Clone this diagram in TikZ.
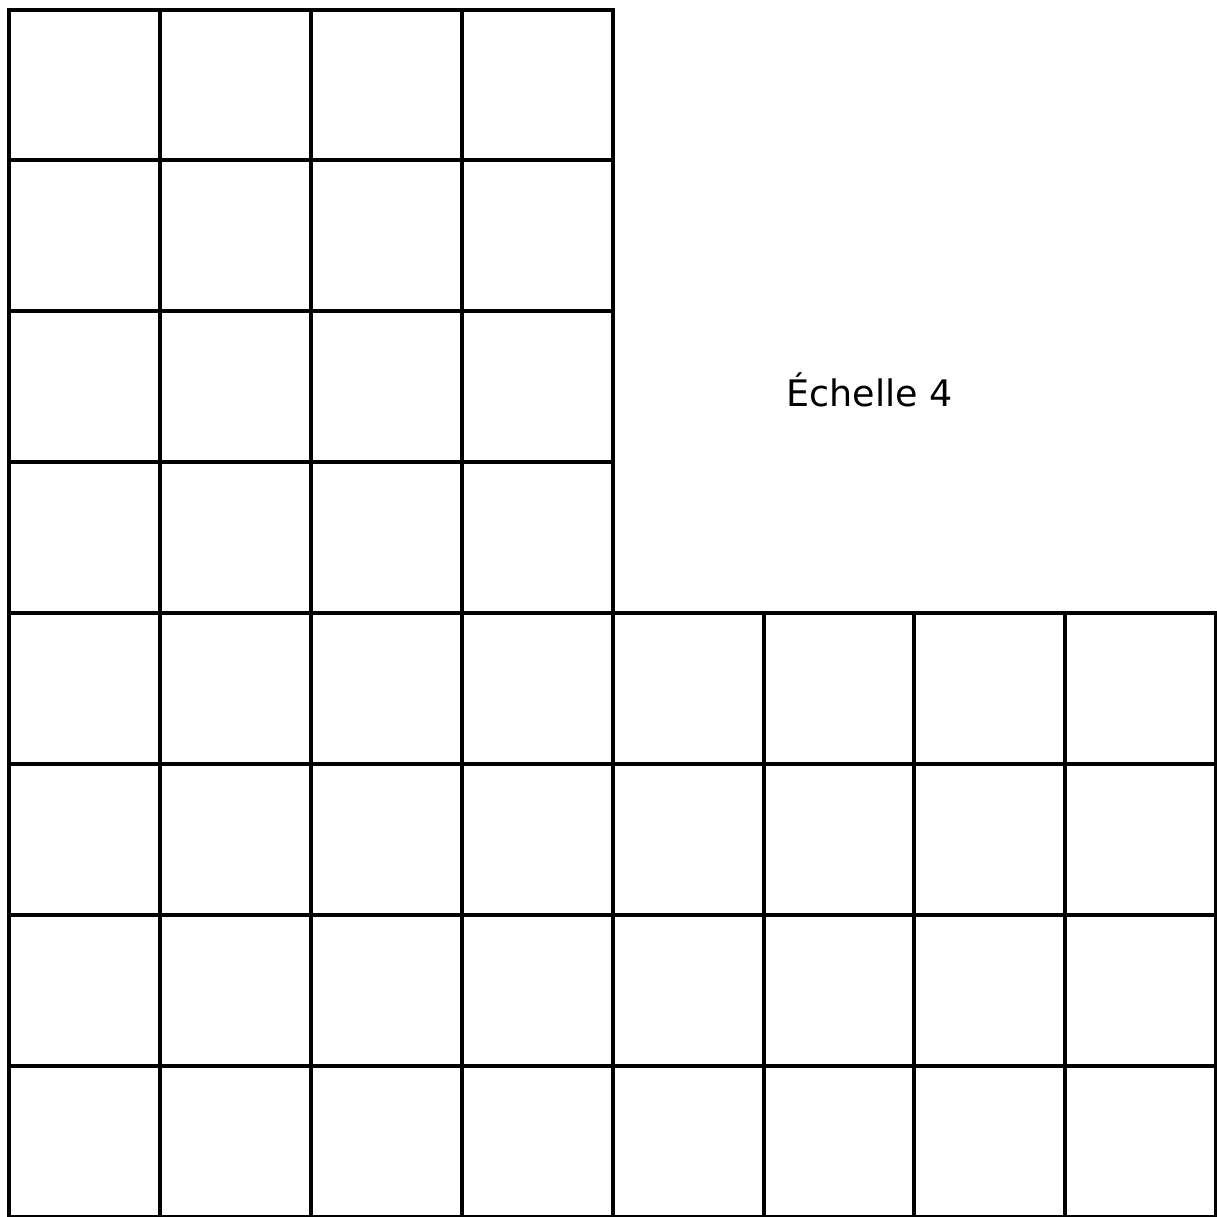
\documentclass[tikz,border=0pt]{standalone}
\usepackage{fontspec}
\setmainfont{DejaVu Sans}
\begin{document}
\begin{tikzpicture}[x=1pt,y=-1pt,
  gridline/.style={line width=4pt,black,line cap=rect},
  label/.style={font=\fontsize{36.5}{40}\selectfont,inner sep=0pt}]
\useasboundingbox (0,0) rectangle (1217,1216);
\def\cs{150.9}
\foreach \i in {0,...,4} {
  \draw[gridline] ({9+\i*\cs},9.5) -- ({9+\i*\cs},{9.5+8*\cs});
}
\foreach \i in {5,...,8} {
  \draw[gridline] ({9+\i*\cs},{9.5+4*\cs}) -- ({9+\i*\cs},{9.5+8*\cs});
}
\foreach \j in {0,...,3} {
  \draw[gridline] (9,{9.5+\j*\cs}) -- ({9+4*\cs},{9.5+\j*\cs});
}
\foreach \j in {4,...,8} {
  \draw[gridline] (9,{9.5+\j*\cs}) -- ({9+8*\cs},{9.5+\j*\cs});
}
\node[label] (scale) at (869.5,390) {Échelle 4};
\end{tikzpicture}
\end{document}
